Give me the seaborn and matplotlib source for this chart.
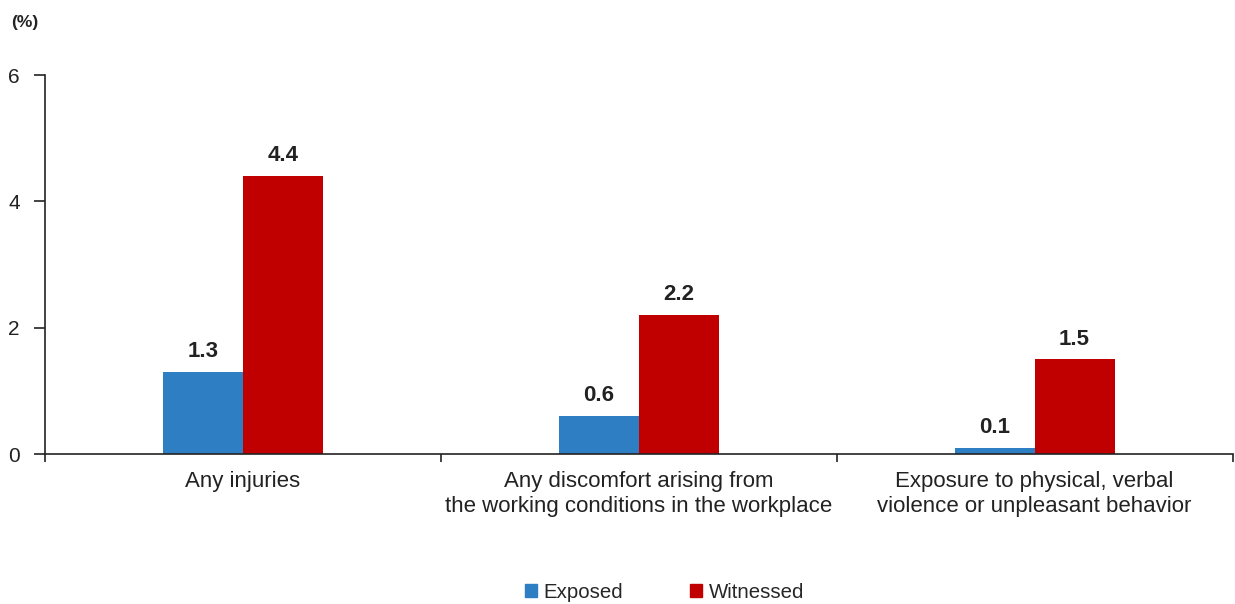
import numpy as np
import pandas as pd
import seaborn as sns
import matplotlib.pyplot as plt
from matplotlib.ticker import FixedLocator

categories = [
    "Any injuries",
    "Any discomfort arising from\nthe working conditions in the workplace",
    "Exposure to physical, verbal\nviolence or unpleasant behavior",
]
exposed = [1.3, 0.6, 0.1]
witnessed = [4.4, 2.2, 1.5]
series = ["Exposed", "Witnessed"]
colors = ["#2E7EC3", "#C00000"]

df = pd.DataFrame({
    "category": categories * 2,
    "value": exposed + witnessed,
    "group": [series[0]] * 3 + [series[1]] * 3,
})

sns.set_theme(style="white")
plt.rcParams["font.family"] = ["Liberation Sans", "DejaVu Sans"]

fig = plt.figure(figsize=(12.35, 6.04), dpi=100)
ax = fig.add_axes([0.0364, 0.2483, 0.9616, 0.6275])

sns.barplot(data=df, x="category", y="value", hue="group", palette=colors,
            width=0.404, saturation=1, linewidth=0, ax=ax, legend=False)

# value labels
for cont in ax.containers:
    ax.bar_label(cont, fmt="%.1f", padding=7, fontsize=16, fontweight="bold",
                 color="#222222")

ax.set_xlim(-0.5, 2.5)
ax.set_ylim(0, 6)
ax.set_yticks([0, 2, 4, 6])
ax.set_xlabel("")
ax.set_ylabel("")

for s in ["top", "right"]:
    ax.spines[s].set_visible(False)
for s in ["left", "bottom"]:
    ax.spines[s].set_color("#222222")
    ax.spines[s].set_linewidth(1.2)

ax.tick_params(axis="y", direction="out", length=8, width=1.2, pad=10,
               labelsize=15, colors="#222222", left=True)
ax.tick_params(axis="x", which="major", length=0, pad=12, labelsize=16,
               labelcolor="#222222")
for lbl in ax.get_xticklabels():
    lbl.set_linespacing(1.3)
ax.xaxis.set_minor_locator(FixedLocator([-0.5, 0.5, 1.5, 2.5]))
ax.tick_params(axis="x", which="minor", direction="out", length=6, width=1.2,
               color="#222222", bottom=True)

fig.text(0.009, 0.955, "(%)", fontsize=12.5, fontweight="bold", color="#222222")

handles = [plt.Rectangle((0, 0), 1, 1, color=c) for c in colors]
fig.legend(handles, series, loc="lower center", bbox_to_anchor=(0.538, -0.027),
           ncol=2, frameon=False, fontsize=14.7, handlelength=0.6,
           handleheight=0.6, handletextpad=0.3, columnspacing=3.3)

fig.savefig("out.png", dpi=100)
